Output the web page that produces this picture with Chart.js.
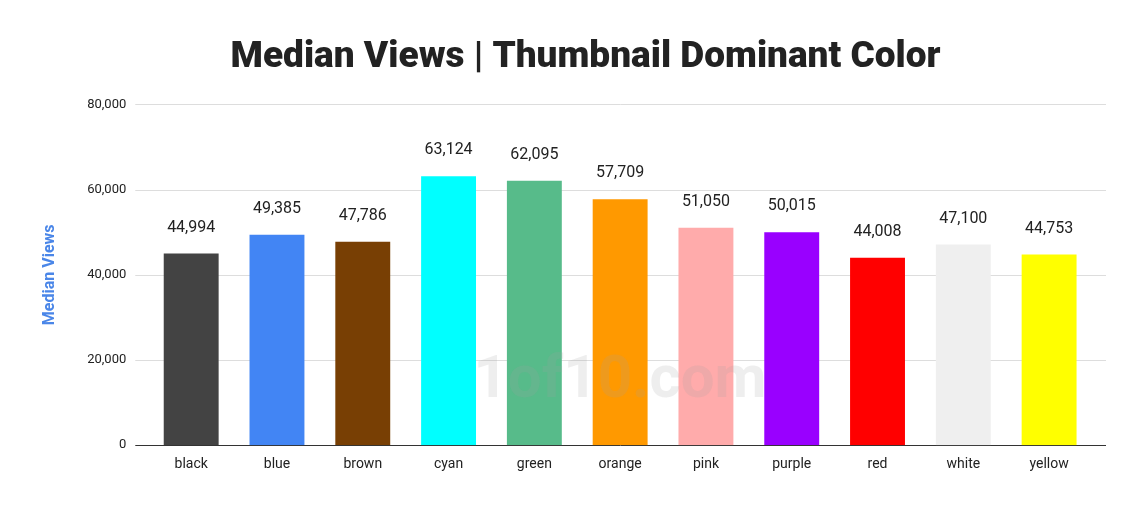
<!DOCTYPE html>
<html>
<head>
<meta charset="utf-8">
<script src="https://cdn.jsdelivr.net/npm/chart.js@4"></script>
<style>
  html, body { margin: 0; padding: 0; background: #fff; }
  #wrap { width: 1131px; height: 511px; position: relative; }
</style>
</head>
<body>
<div id="wrap"><canvas id="chart"></canvas></div>
<script>
const categories = ['black', 'blue', 'brown', 'cyan', 'green', 'orange', 'pink', 'purple', 'red', 'white', 'yellow'];
const medianViews = [44994, 49385, 47786, 63124, 62095, 57709, 51050, 50015, 44008, 47100, 44753];
const barColors = ['#434343', '#4285f4', '#783f04', '#00ffff', '#57bb8a', '#ff9900', '#ffabab', '#9900ff', '#ff0000', '#efefef', '#ffff00'];
const yTicks = [0, 20000, 40000, 60000, 80000];
const titleText = 'Median Views | Thumbnail Dominant Color';
const titleFont = '900 37px Roboto, Arial';

// grid lines run a little past the bar area, as in the original
const gridPlugin = {
    id: 'grid',
    beforeDatasetsDraw(chart) {
        const ctx = chart.ctx, a = chart.chartArea, y = chart.scales.y;
        ctx.save();
        ctx.lineWidth = 1;
        yTicks.forEach(v => {
            const py = Math.round(y.getPixelForValue(v)) + 0.5;
            ctx.strokeStyle = v === 0 ? '#333' : '#ddd';
            ctx.beginPath();
            ctx.moveTo(a.left - 13, py);
            ctx.lineTo(a.right + 14, py);
            ctx.stroke();
        });
        ctx.restore();
    }
};

// labels over each bar, the title + faint watermark
const labelPlugin = {
    id: 'labels',
    afterDatasetsDraw(chart) {
        const ctx = chart.ctx;
        const meta = chart.getDatasetMeta(0);
        ctx.save();
        ctx.font = '16px Roboto, Arial';
        ctx.fillStyle = '#222';
        ctx.textAlign = 'center';
        ctx.textBaseline = 'bottom';
        meta.data.forEach((bar, i) => {
            ctx.fillText(medianViews[i].toLocaleString('en-US'), bar.x, bar.y - 18);
        });
        ctx.font = titleFont;
        ctx.textBaseline = 'middle';
        ctx.fillText(titleText, chart.width / 2 + 20, 58);
        ctx.font = 'bold 60px Roboto, Arial';
        ctx.fillStyle = 'rgba(160,160,160,0.18)';
        ctx.fillText('1of10.com', 620, 382);
        ctx.restore();
    }
};

new Chart(document.getElementById('chart'), {
    type: 'bar',
    data: {
        labels: categories,
        datasets: [{ data: medianViews, backgroundColor: barColors, barPercentage: 0.64, categoryPercentage: 1 }]
    },
    options: {
        responsive: true,
        maintainAspectRatio: false,
        animation: false,
        layout: { padding: { left: 36, right: 39, top: 8, bottom: 35 } },
        plugins: {
            legend: { display: false },
            tooltip: { enabled: false },
            title: {
                display: true,
                text: titleText,
                font: { family: 'Roboto, Arial', size: 37, weight: '900' },
                color: 'rgba(0,0,0,0)',
                padding: { top: 30, bottom: 22 }
            }
        },
        scales: {
            x: {
                grid: { display: false },
                border: { display: false },
                ticks: { color: '#222', font: { family: 'Roboto, Arial', size: 14 } }
            },
            y: {
                min: 0, max: 80000,
                afterBuildTicks(axis) { axis.ticks = yTicks.map(v => ({ value: v })); },
                grid: { display: false },
                border: { display: false },
                ticks: { color: '#222', padding: 14, font: { family: 'Roboto, Arial', size: 13 }, callback: v => v.toLocaleString('en-US') },
                title: { display: true, text: 'Median Views', color: '#4a86e8', font: { family: 'Roboto, Arial', size: 16, weight: 'bold' }, padding: { bottom: 14 } }
            }
        }
    },
    plugins: [gridPlugin, labelPlugin]
});
</script>
</body>
</html>
